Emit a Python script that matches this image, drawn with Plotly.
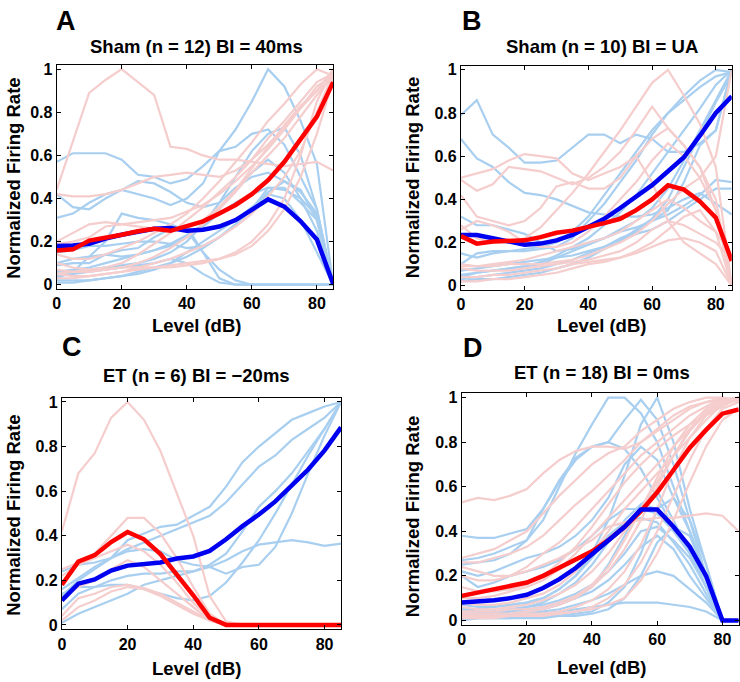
import plotly.graph_objects as go

LEVELS = [0, 5, 10, 15, 20, 25, 30, 35, 40, 45, 50, 55, 60, 65, 70, 75, 80, 85]
X_TICKS = [0, 20, 40, 60, 80]
Y_TICKS = [0, 0.2, 0.4, 0.6, 0.8, 1]

PANEL_LETTERS = ["A", "B", "C", "D"]
PANEL_TITLES = ["Sham (n = 12) BI = 40ms", "Sham (n = 10) BI = UA",
                "ET (n = 6) BI = \u221220ms", "ET (n = 18) BI = 0ms"]
X_TITLE = "Level (dB)"
Y_TITLE = "Normalized Firing Rate"

# ---------------- Panel A ----------------
A_RED_MEAN = [0.159, 0.164, 0.205, 0.217, 0.232, 0.248, 0.26, 0.25, 0.27, 0.294,
              0.33, 0.37, 0.42, 0.485, 0.57, 0.676, 0.78, 0.94]
A_BLUE_MEAN = [0.18, 0.182, 0.19, 0.214, 0.232, 0.248, 0.26, 0.263, 0.25, 0.255,
               0.27, 0.30, 0.347, 0.396, 0.362, 0.294, 0.21, 0.003]
A_RED_CELLS = [
    [0.44, 0.66, 0.89, 0.95, 1.0, 0.94, 0.88, 0.64, 0.63, 0.6, 0.58, 0.58, 0.57, 0.56, 0.55, 0.56, 0.57, 0.53],
    [0.42, 0.41, 0.41, 0.42, 0.44, 0.47, 0.5, 0.51, 0.52, 0.51, 0.5, 0.53, 0.58, 0.65, 0.73, 0.82, 0.9, 1.0],
    [0.19, 0.2, 0.22, 0.27, 0.28, 0.29, 0.3, 0.31, 0.34, 0.37, 0.42, 0.48, 0.55, 0.63, 0.72, 0.82, 0.92, 0.97],
    [0.05, 0.06, 0.07, 0.07, 0.08, 0.08, 0.08, 0.08, 0.09, 0.1, 0.12, 0.15, 0.2, 0.28, 0.4, 0.6, 0.85, 1.0],
    [0.1, 0.08, 0.07, 0.08, 0.1, 0.14, 0.19, 0.24, 0.3, 0.36, 0.43, 0.5, 0.58, 0.68, 0.76, 0.85, 0.94, 0.98],
    [0.03, 0.03, 0.04, 0.05, 0.06, 0.07, 0.08, 0.09, 0.1, 0.11, 0.12, 0.14, 0.18, 0.25, 0.35, 0.5, 0.7, 0.95],
    [0.07, 0.06, 0.06, 0.07, 0.08, 0.1, 0.13, 0.17, 0.22, 0.28, 0.35, 0.43, 0.52, 0.6, 0.68, 0.78, 0.88, 0.97],
    [0.14, 0.12, 0.12, 0.14, 0.17, 0.2, 0.24, 0.28, 0.33, 0.4, 0.48, 0.57, 0.66, 0.76, 0.84, 0.93, 1.0, 0.97],
    [0.05, 0.04, 0.04, 0.05, 0.06, 0.08, 0.1, 0.12, 0.15, 0.18, 0.22, 0.27, 0.33, 0.41, 0.5, 0.62, 0.8, 0.98],
    [0.2, 0.24, 0.28, 0.29, 0.28, 0.27, 0.26, 0.25, 0.26, 0.3, 0.36, 0.44, 0.54, 0.64, 0.74, 0.83, 0.9, 0.96],
]
A_BLUE_CELLS = [
    [0.57, 0.61, 0.61, 0.61, 0.58, 0.51, 0.5, 0.47, 0.49, 0.55, 0.62, 0.64, 0.7, 0.72, 0.65, 0.5, 0.35, 0.0],
    [0.31, 0.33, 0.38, 0.42, 0.44, 0.42, 0.4, 0.37, 0.4, 0.47, 0.62, 0.72, 0.85, 1.0, 0.92, 0.76, 0.56, 0.0],
    [0.42, 0.36, 0.35, 0.4, 0.44, 0.48, 0.47, 0.43, 0.38, 0.36, 0.38, 0.45, 0.5, 0.52, 0.48, 0.43, 0.33, 0.0],
    [0.1, 0.12, 0.13, 0.2, 0.33, 0.31, 0.3, 0.28, 0.25, 0.15, 0.07, 0.02, 0.0, 0.0, 0.0, 0.0, 0.0, 0.0],
    [0.09, 0.1, 0.1, 0.14, 0.16, 0.17, 0.22, 0.26, 0.27, 0.15, 0.03, 0.0, 0.0, 0.0, 0.0, 0.0, 0.0, 0.0],
    [0.03, 0.06, 0.07, 0.08, 0.09, 0.1, 0.12, 0.15, 0.2, 0.28, 0.38, 0.5, 0.62, 0.7, 0.73, 0.6, 0.35, 0.0],
    [0.06, 0.07, 0.08, 0.1, 0.12, 0.14, 0.16, 0.19, 0.23, 0.28, 0.35, 0.44, 0.52, 0.58, 0.52, 0.4, 0.25, 0.0],
    [0.15, 0.16, 0.18, 0.18, 0.19, 0.2, 0.2, 0.19, 0.17, 0.18, 0.22, 0.28, 0.35, 0.45, 0.45, 0.38, 0.3, 0.0],
    [0.02, 0.02, 0.02, 0.03, 0.04, 0.06, 0.08, 0.1, 0.13, 0.17, 0.22, 0.28, 0.35, 0.43, 0.48, 0.44, 0.3, 0.0],
    [0.05, 0.06, 0.13, 0.14, 0.13, 0.14, 0.16, 0.18, 0.22, 0.27, 0.33, 0.38, 0.42, 0.45, 0.44, 0.4, 0.32, 0.0],
    [0.01, 0.01, 0.02, 0.03, 0.04, 0.05, 0.07, 0.1, 0.15, 0.2, 0.25, 0.3, 0.36, 0.42, 0.4, 0.3, 0.15, 0.0],
    [0.04, 0.05, 0.06, 0.07, 0.08, 0.09, 0.1, 0.12, 0.1, 0.05, 0.01, 0.0, 0.0, 0.0, 0.0, 0.0, 0.0, 0.0],
]

# ---------------- Panel B ----------------
B_RED_MEAN = [0.23, 0.195, 0.205, 0.205, 0.21, 0.225, 0.245, 0.255, 0.27, 0.29,
              0.31, 0.35, 0.40, 0.465, 0.445, 0.39, 0.315, 0.115]
B_BLUE_MEAN = [0.235, 0.235, 0.22, 0.205, 0.19, 0.195, 0.21, 0.235, 0.27, 0.31,
               0.36, 0.41, 0.466, 0.53, 0.595, 0.695, 0.80, 0.878]
B_RED_CELLS = [
    [0.5, 0.52, 0.54, 0.58, 0.61, 0.6, 0.59, 0.52, 0.49, 0.52, 0.55, 0.6, 0.48, 0.3, 0.2, 0.15, 0.1, 0.0],
    [0.49, 0.44, 0.47, 0.55, 0.54, 0.53, 0.5, 0.47, 0.5, 0.55, 0.62, 0.72, 0.83, 0.73, 0.65, 0.55, 0.4, 0.0],
    [0.28, 0.22, 0.2, 0.2, 0.22, 0.27, 0.35, 0.43, 0.52, 0.62, 0.72, 0.83, 0.94, 1.0, 0.88, 0.75, 0.55, 0.0],
    [0.42, 0.32, 0.3, 0.28, 0.3, 0.36, 0.46, 0.48, 0.45, 0.45, 0.5, 0.6, 0.68, 0.73, 0.65, 0.55, 0.35, 0.0],
    [0.26, 0.3, 0.28, 0.25, 0.2, 0.18, 0.18, 0.2, 0.25, 0.32, 0.4, 0.48, 0.58, 0.66, 0.6, 0.5, 0.35, 0.0],
    [0.09, 0.09, 0.1, 0.11, 0.12, 0.14, 0.16, 0.18, 0.2, 0.22, 0.25, 0.3, 0.35, 0.4, 0.36, 0.3, 0.25, 0.14],
    [0.08, 0.07, 0.07, 0.07, 0.08, 0.09, 0.1, 0.11, 0.12, 0.14, 0.16, 0.2, 0.26, 0.3, 0.28, 0.24, 0.2, 0.12],
    [0.04, 0.04, 0.05, 0.05, 0.06, 0.07, 0.08, 0.1, 0.11, 0.12, 0.13, 0.15, 0.18, 0.21, 0.22, 0.2, 0.16, 0.0],
    [0.02, 0.02, 0.03, 0.03, 0.04, 0.05, 0.06, 0.08, 0.1, 0.11, 0.13, 0.16, 0.2, 0.26, 0.32, 0.35, 0.25, 0.0],
    [0.1, 0.09, 0.09, 0.1, 0.1, 0.1, 0.11, 0.12, 0.14, 0.17, 0.2, 0.24, 0.3, 0.38, 0.45, 0.5, 0.6, 1.0],
]
B_BLUE_CELLS = [
    [0.79, 0.86, 0.7, 0.64, 0.57, 0.57, 0.58, 0.64, 0.7, 0.7, 0.66, 0.7, 0.68, 0.62, 0.62, 0.66, 0.72, 1.0],
    [0.68, 0.59, 0.55, 0.48, 0.43, 0.42, 0.4, 0.37, 0.34, 0.33, 0.32, 0.32, 0.33, 0.36, 0.4, 0.43, 0.38, 0.33],
    [0.32, 0.28, 0.28, 0.26, 0.24, 0.2, 0.16, 0.17, 0.2, 0.22, 0.25, 0.27, 0.3, 0.33, 0.37, 0.42, 0.49, 0.48],
    [0.15, 0.13, 0.15, 0.16, 0.17, 0.18, 0.2, 0.25, 0.32, 0.42, 0.52, 0.62, 0.72, 0.8, 0.88, 0.95, 1.0, 0.99],
    [0.1, 0.15, 0.16, 0.16, 0.16, 0.17, 0.18, 0.22, 0.3, 0.38, 0.48, 0.58, 0.7, 0.8, 0.86, 0.92, 0.97, 0.99],
    [0.04, 0.06, 0.07, 0.08, 0.09, 0.11, 0.14, 0.18, 0.22, 0.28, 0.34, 0.42, 0.52, 0.62, 0.72, 0.82, 0.93, 1.0],
    [0.03, 0.04, 0.05, 0.06, 0.07, 0.08, 0.1, 0.12, 0.15, 0.18, 0.22, 0.25, 0.3, 0.35, 0.48, 0.65, 0.72, 1.0],
    [0.07, 0.08, 0.09, 0.1, 0.11, 0.12, 0.13, 0.14, 0.16, 0.18, 0.21, 0.24, 0.26, 0.3, 0.35, 0.4, 0.45, 0.45],
    [0.02, 0.03, 0.03, 0.04, 0.05, 0.06, 0.08, 0.1, 0.13, 0.17, 0.21, 0.26, 0.31, 0.4, 0.55, 0.7, 0.85, 0.98],
    [0.05, 0.06, 0.07, 0.08, 0.09, 0.1, 0.13, 0.16, 0.19, 0.22, 0.26, 0.3, 0.36, 0.45, 0.58, 0.72, 0.86, 1.0],
]

# ---------------- Panel C ----------------
C_RED_MEAN = [0.18, 0.284, 0.313, 0.372, 0.417, 0.384, 0.318, 0.229, 0.133, 0.032,
              0.0, 0.0, 0.0, 0.0, 0.0, 0.0, 0.0, 0.0]
C_BLUE_MEAN = [0.11, 0.185, 0.204, 0.244, 0.266, 0.273, 0.28, 0.298, 0.307, 0.332,
               0.384, 0.443, 0.495, 0.554, 0.628, 0.697, 0.783, 0.886]
C_RED_CELLS = [
    [0.42, 0.68, 0.77, 0.93, 1.0, 0.92, 0.78, 0.59, 0.40, 0.13, 0.015, 0, 0, 0, 0, 0, 0, 0],
    [0.25, 0.28, 0.32, 0.4, 0.48, 0.48, 0.41, 0.3, 0.17, 0.05, 0.0, 0, 0, 0, 0, 0, 0, 0],
    [0.22, 0.27, 0.3, 0.33, 0.36, 0.33, 0.27, 0.19, 0.1, 0.03, 0.0, 0, 0, 0, 0, 0, 0, 0],
    [0.12, 0.17, 0.2, 0.25, 0.29, 0.26, 0.2, 0.14, 0.08, 0.02, 0.0, 0, 0, 0, 0, 0, 0, 0],
    [0.04, 0.12, 0.14, 0.17, 0.18, 0.165, 0.14, 0.1, 0.06, 0.02, 0.0, 0, 0, 0, 0, 0, 0, 0],
    [0.02, 0.08, 0.11, 0.15, 0.17, 0.16, 0.13, 0.09, 0.05, 0.02, 0.0, 0, 0, 0, 0, 0, 0, 0],
]
C_BLUE_CELLS = [
    [0.24, 0.27, 0.28, 0.3, 0.33, 0.34, 0.33, 0.29, 0.27, 0.26, 0.29, 0.33, 0.36, 0.37, 0.38, 0.37, 0.355, 0.365],
    [0.13, 0.2, 0.25, 0.3, 0.38, 0.41, 0.44, 0.45, 0.49, 0.53, 0.62, 0.73, 0.8, 0.86, 0.92, 0.95, 0.98, 1.0],
    [0.16, 0.21, 0.26, 0.3, 0.34, 0.37, 0.4, 0.43, 0.46, 0.49, 0.55, 0.63, 0.71, 0.76, 0.83, 0.88, 0.93, 1.0],
    [0.14, 0.17, 0.17, 0.18, 0.18, 0.16, 0.14, 0.12, 0.11, 0.13, 0.19, 0.28, 0.38, 0.5, 0.63, 0.76, 0.88, 1.0],
    [0.07, 0.14, 0.17, 0.2, 0.22, 0.23, 0.23, 0.24, 0.24, 0.26, 0.23, 0.26, 0.27, 0.35, 0.5, 0.68, 0.85, 1.0],
    [0.01, 0.05, 0.08, 0.11, 0.14, 0.18, 0.2, 0.22, 0.24, 0.27, 0.32, 0.42, 0.53, 0.6, 0.68, 0.78, 0.88, 1.0],
]

# ---------------- Panel D ----------------
D_RED_MEAN = [0.11, 0.125, 0.14, 0.155, 0.17, 0.2, 0.235, 0.27, 0.31, 0.36,
              0.42, 0.49, 0.575, 0.675, 0.775, 0.855, 0.928, 0.947]
D_BLUE_MEAN = [0.08, 0.083, 0.09, 0.1, 0.115, 0.145, 0.185, 0.235, 0.295, 0.355,
               0.42, 0.498, 0.498, 0.42, 0.33, 0.2, 0.0, 0.0]
D_RED_CELLS = [
    [0.53, 0.55, 0.54, 0.56, 0.59, 0.66, 0.72, 0.76, 0.78, 0.78, 0.77, 0.8, 0.85, 0.9, 0.95, 0.98, 1.0, 0.99],
    [0.28, 0.3, 0.32, 0.36, 0.4, 0.48, 0.56, 0.63, 0.7, 0.75, 0.78, 0.85, 0.9, 0.95, 0.98, 1.0, 1.0, 0.98],
    [0.26, 0.26, 0.28, 0.3, 0.33, 0.38, 0.45, 0.52, 0.58, 0.65, 0.72, 0.8, 0.86, 0.92, 0.96, 0.98, 0.99, 1.0],
    [0.2, 0.18, 0.18, 0.2, 0.24, 0.3, 0.35, 0.42, 0.5, 0.58, 0.66, 0.74, 0.8, 0.86, 0.92, 0.96, 1.0, 0.98],
    [0.1, 0.1, 0.11, 0.13, 0.15, 0.18, 0.23, 0.3, 0.38, 0.46, 0.54, 0.62, 0.7, 0.78, 0.86, 0.93, 0.98, 1.0],
    [0.24, 0.22, 0.2, 0.2, 0.22, 0.25, 0.28, 0.32, 0.36, 0.42, 0.44, 0.45, 0.46, 0.46, 0.47, 0.48, 0.47, 0.4],
    [0.06, 0.05, 0.05, 0.06, 0.07, 0.09, 0.12, 0.16, 0.22, 0.3, 0.4, 0.5, 0.62, 0.74, 0.85, 0.93, 0.98, 1.0],
    [0.03, 0.03, 0.03, 0.03, 0.04, 0.05, 0.07, 0.1, 0.15, 0.22, 0.32, 0.45, 0.6, 0.74, 0.86, 0.94, 0.98, 0.99],
    [0.02, 0.02, 0.02, 0.02, 0.03, 0.03, 0.04, 0.06, 0.09, 0.14, 0.22, 0.34, 0.5, 0.68, 0.82, 0.92, 0.97, 1.0],
    [0.01, 0.01, 0.01, 0.02, 0.02, 0.02, 0.03, 0.04, 0.06, 0.1, 0.16, 0.26, 0.4, 0.56, 0.72, 0.86, 0.95, 0.98],
    [0.04, 0.04, 0.04, 0.05, 0.05, 0.06, 0.08, 0.11, 0.16, 0.24, 0.36, 0.5, 0.64, 0.78, 0.88, 0.95, 0.99, 1.0],
    [0.02, 0.02, 0.02, 0.02, 0.02, 0.03, 0.03, 0.04, 0.05, 0.07, 0.1, 0.18, 0.3, 0.45, 0.62, 0.78, 0.9, 0.95],
    [0.15, 0.13, 0.13, 0.14, 0.16, 0.2, 0.26, 0.33, 0.42, 0.52, 0.62, 0.7, 0.77, 0.83, 0.88, 0.92, 0.96, 1.0],
    [0.08, 0.07, 0.07, 0.08, 0.1, 0.12, 0.16, 0.22, 0.3, 0.4, 0.5, 0.58, 0.66, 0.74, 0.82, 0.9, 0.97, 0.99],
]
D_BLUE_CELLS = [
    [0.27, 0.28, 0.3, 0.33, 0.36, 0.45, 0.6, 0.75, 0.88, 1.0, 1.0, 0.93, 0.8, 0.6, 0.4, 0.2, 0.0, 0.0],
    [0.05, 0.05, 0.06, 0.07, 0.08, 0.1, 0.14, 0.2, 0.3, 0.45, 0.65, 0.88, 1.0, 0.8, 0.5, 0.25, 0.0, 0.0],
    [0.25, 0.26, 0.27, 0.3, 0.36, 0.5, 0.63, 0.73, 0.78, 0.8, 0.9, 0.99, 0.9, 0.7, 0.45, 0.2, 0.0, 0.0],
    [0.38, 0.37, 0.37, 0.39, 0.41, 0.5, 0.62, 0.72, 0.78, 0.8, 0.77, 0.68, 0.55, 0.42, 0.3, 0.15, 0.0, 0.0],
    [0.22, 0.2, 0.22, 0.25, 0.28, 0.3, 0.33, 0.38, 0.45, 0.55, 0.7, 0.78, 0.72, 0.55, 0.4, 0.2, 0.0, 0.0],
    [0.2, 0.15, 0.17, 0.2, 0.22, 0.24, 0.27, 0.32, 0.38, 0.45, 0.5, 0.5, 0.48, 0.4, 0.3, 0.15, 0.0, 0.0],
    [0.05, 0.04, 0.04, 0.05, 0.06, 0.08, 0.12, 0.17, 0.25, 0.35, 0.45, 0.52, 0.5, 0.42, 0.3, 0.18, 0.0, 0.0],
    [0.02, 0.02, 0.02, 0.03, 0.04, 0.05, 0.07, 0.1, 0.15, 0.25, 0.38, 0.52, 0.58, 0.45, 0.3, 0.15, 0.0, 0.0],
    [0.03, 0.03, 0.03, 0.04, 0.05, 0.06, 0.08, 0.1, 0.13, 0.18, 0.25, 0.33, 0.38, 0.32, 0.2, 0.1, 0.0, 0.0],
    [0.01, 0.01, 0.02, 0.02, 0.03, 0.04, 0.05, 0.07, 0.09, 0.12, 0.16, 0.2, 0.22, 0.2, 0.14, 0.08, 0.0, 0.0],
    [0.02, 0.02, 0.02, 0.02, 0.03, 0.03, 0.04, 0.05, 0.06, 0.07, 0.08, 0.08, 0.08, 0.07, 0.06, 0.04, 0.0, 0.0],
    [0.0, 0.01, 0.01, 0.01, 0.01, 0.01, 0.02, 0.02, 0.03, 0.05, 0.1, 0.2, 0.35, 0.42, 0.38, 0.2, 0.0, 0.0],
    [0.07, 0.06, 0.06, 0.07, 0.08, 0.1, 0.14, 0.2, 0.28, 0.38, 0.44, 0.46, 0.44, 0.35, 0.25, 0.12, 0.0, 0.0],
    [0.03, 0.03, 0.04, 0.05, 0.06, 0.07, 0.09, 0.12, 0.16, 0.22, 0.3, 0.4, 0.42, 0.36, 0.28, 0.15, 0.0, 0.0],
    [0.01, 0.01, 0.01, 0.01, 0.02, 0.02, 0.02, 0.03, 0.04, 0.08, 0.15, 0.3, 0.5, 0.55, 0.45, 0.25, 0.0, 0.0],
]

PANELS = [
    (A_RED_CELLS, A_BLUE_CELLS, A_RED_MEAN, A_BLUE_MEAN),
    (B_RED_CELLS, B_BLUE_CELLS, B_RED_MEAN, B_BLUE_MEAN),
    (C_RED_CELLS, C_BLUE_CELLS, C_RED_MEAN, C_BLUE_MEAN),
    (D_RED_CELLS, D_BLUE_CELLS, D_RED_MEAN, D_BLUE_MEAN),
]

W, H = 740, 682
# plot boxes in pixels (left, right, top, bottom)
BOXES = [(53, 331.4, 61.6, 288.4), (460, 732.7, 62.3, 289.4),
         (58.3, 339.3, 398.2, 632.8), (460.7, 739.7, 393.8, 628.2)]
LETTER_POS = [(62, 17), (471, 17), (68, 347), (472, 348)]
TITLE_POS = [(194, 43), (602, 43), (194, 376), (602, 373)]
XT_POS = [(194, 325), (602, 325), (194, 672), (602, 671)]
YT_POS = [(10, 176), (412, 176), (10, 517), (412, 519)]

LIGHT_RED = "#f5cdcd"
LIGHT_BLUE = "#a9cff0"
RED = "#ff0000"
BLUE = "#0000f0"
FONT = "Liberation Sans, Arial, sans-serif"

fig = go.Figure()
annotations = []
for i, (rc, bc, rm, bm) in enumerate(PANELS):
    n = i + 1
    xa = "x" if n == 1 else f"x{n}"
    ya = "y" if n == 1 else f"y{n}"
    for cell in bc:
        fig.add_trace(go.Scatter(x=LEVELS, y=cell, mode="lines", xaxis=xa, yaxis=ya,
                                 line=dict(color=LIGHT_BLUE, width=2.2), showlegend=False, hoverinfo="skip"))
    for cell in rc:
        fig.add_trace(go.Scatter(x=LEVELS, y=cell, mode="lines", xaxis=xa, yaxis=ya,
                                 line=dict(color=LIGHT_RED, width=2.2), showlegend=False, hoverinfo="skip"))
    means = [(bm, BLUE), (rm, RED)] if n != 4 else [(rm, RED), (bm, BLUE)]
    for m, col in means:
        fig.add_trace(go.Scatter(x=LEVELS, y=m, mode="lines", xaxis=xa, yaxis=ya,
                                 line=dict(color=col, width=4.5), showlegend=False))
    l, r, t, b = BOXES[i]
    axkw = dict(showline=True, linecolor="black", linewidth=1, mirror="ticks",
                ticks="inside", ticklen=4, tickcolor="black", showgrid=False, zeroline=False,
                tickfont=dict(family=FONT, size=16, color="black", weight="bold"))
    fig.layout[f"xaxis{'' if n == 1 else n}"] = dict(
        domain=[l / W, r / W], range=[0, 85], tickvals=X_TICKS, anchor=ya, **axkw)
    fig.layout[f"yaxis{'' if n == 1 else n}"] = dict(
        domain=[1 - b / H, 1 - t / H], range=[-0.02, 1.02], tickvals=Y_TICKS, anchor=xa, **axkw)

    def ann(text, pos, size, angle=0):
        annotations.append(dict(text=text, x=pos[0] / W, y=1 - pos[1] / H, xref="paper", yref="paper",
                                xanchor="center", yanchor="middle", showarrow=False, textangle=angle,
                                font=dict(family=FONT, size=size, color="black", weight="bold")))
    ann(PANEL_LETTERS[i], LETTER_POS[i], 27)
    ann(PANEL_TITLES[i], TITLE_POS[i], 18.5)
    ann(X_TITLE, XT_POS[i], 18.5)
    ann(Y_TITLE, YT_POS[i], 18.5, -90)

fig.update_layout(width=W, height=H, margin=dict(l=0, r=0, t=0, b=0),
                  paper_bgcolor="white", plot_bgcolor="white", annotations=annotations)
fig.write_html("out.html", config={"displayModeBar": False},
               post_script="document.body.style.margin='0';document.body.style.padding='0';")
